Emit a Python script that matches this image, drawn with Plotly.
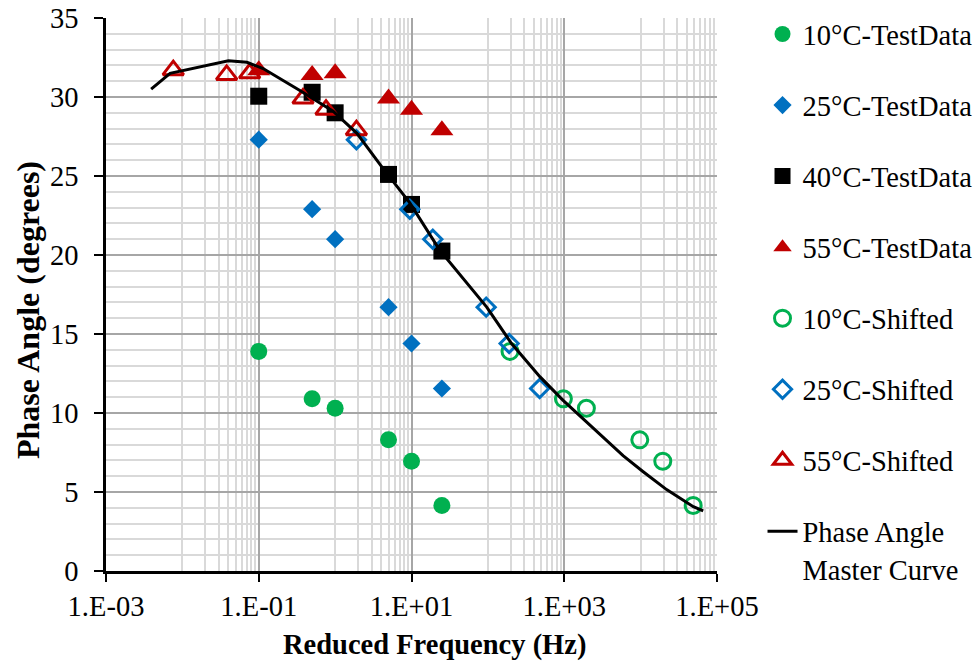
import plotly.graph_objects as go

# ---- data ----
test_freq = [0.1, 0.5, 1, 5, 10, 25]
t10_phase = [13.9, 10.9, 10.3, 8.3, 6.95, 4.15]
t25_phase = [27.3, 22.9, 21.0, 16.7, 14.4, 11.55]
t40_phase = [30.05, 30.3, 29.0, 25.1, 23.2, 20.25]
t55_phase = [31.7, 31.4, 31.5, 29.9, 29.2, 27.9]

s10_freq = [195, 975, 1950, 9750, 19500, 48750]
s25_freq = [1.9, 9.5, 19, 95, 190, 476]
s55_freq = [0.0076, 0.038, 0.076, 0.38, 0.76, 1.9]

mc_freq = [0.0039, 0.0069, 0.040, 0.070, 0.114, 0.35, 0.94, 1.93, 4.2, 9.5,
           23.5, 96.6, 204, 479, 966, 1950, 3550, 5890, 10700, 21900,
           49000, 66000]
mc_phase = [30.5, 31.5, 32.3, 32.2, 31.8, 30.4, 29.1, 27.7, 25.5, 23.3,
            20.3, 16.7, 14.4, 12.3, 10.8, 9.45, 8.3, 7.3, 6.3, 5.15,
            4.07, 3.8]

x_tickvals = [1e-3, 1e-1, 1e1, 1e3, 1e5]
x_ticktext = ["1.E-03", "1.E-01", "1.E+01", "1.E+03", "1.E+05"]
x_minor = [m * 10 ** e for e in (-2, 0, 2, 4) for m in range(1, 10)]

GREEN = "#00b050"
BLUE = "#0070c0"
RED = "#c00000"
FONT = "Liberation Serif"
FS = 28.5

fig = go.Figure()

def add(name, x, y, symbol, color, size, open_=False):
    if open_:
        marker = dict(symbol=symbol + "-open", size=size, color=color,
                      line=dict(width=3, color=color))
    else:
        marker = dict(symbol=symbol, size=size, color=color, line=dict(width=0))
    fig.add_trace(go.Scatter(x=x, y=y, mode="markers", name=name, marker=marker,
                             legendgroup=name))

add("10°C-TestData", test_freq, t10_phase, "circle", GREEN, 17)
add("25°C-TestData", test_freq, t25_phase, "diamond", BLUE, 14)
add("40°C-TestData", test_freq, t40_phase, "square", "black", 17)
add("55°C-TestData", test_freq, t55_phase, "triangle-up", RED, 20)
add("10°C-Shifted", s10_freq, t10_phase, "circle", GREEN, 16, open_=True)
add("25°C-Shifted", s25_freq, t25_phase, "diamond", BLUE, 14, open_=True)
add("55°C-Shifted", s55_freq, t55_phase, "triangle-up", RED, 18, open_=True)

fig.add_trace(go.Scatter(x=mc_freq, y=mc_phase, mode="lines",
                         name="Phase Angle<br>Master Curve",
                         line=dict(color="black", width=3),
                         legendgroup="mc"))

fig.update_layout(
    width=978, height=666,
    margin=dict(l=106, r=261, t=18, b=95, autoexpand=False),
    paper_bgcolor="white", plot_bgcolor="white",
    font=dict(family=FONT, size=FS, color="black"),
    showlegend=True,
    legend=dict(x=1.0745, y=0.9865, xref="paper", yref="container",
                xanchor="left", yanchor="top",
                font=dict(family=FONT, size=FS, color="black"),
                tracegroupgap=31, valign="top", bgcolor="rgba(0,0,0,0)",
                maxheight=660),
    xaxis=dict(
        type="log", range=[-3, 5], automargin=False,
        tickmode="array", tickvals=x_tickvals, ticktext=x_ticktext,
        showgrid=True, gridcolor="#a6a6a6", gridwidth=1.5,
        ticks="outside", ticklen=8, tickwidth=2, tickcolor="black",
        showline=True, linecolor="black", linewidth=2.5,
        zeroline=False,
        tickfont=dict(family=FONT, size=FS),
        minor=dict(tickmode="array", tickvals=x_minor, showgrid=True,
                   gridcolor="#d9d9d9", gridwidth=1.5, ticks=""),
    ),
    yaxis=dict(
        range=[0, 35], tickmode="linear", tick0=0, dtick=5, automargin=False,
        showgrid=True, gridcolor="#a6a6a6", gridwidth=1.5,
        ticks="outside", ticklen=9, tickwidth=2, tickcolor="black",
        showline=True, linecolor="black", linewidth=2.5,
        zeroline=False, ticklabelstandoff=10,
        tickfont=dict(family=FONT, size=FS),
        minor=dict(dtick=1, showgrid=True, gridcolor="#d9d9d9",
                   gridwidth=1.5, ticks=""),
    ),
    annotations=[
        dict(text="<b>Reduced Frequency (Hz)</b>", xref="paper", yref="paper",
             x=(434 - 106) / 611, y=-(645 - 571) / 553, xanchor="center",
             yanchor="middle", showarrow=False,
             font=dict(family=FONT, size=FS, color="black")),
        dict(text="<b>Phase Angle (degrees)</b>", xref="paper", yref="paper",
             x=-(106 - 28) / 611, y=(571 - 310) / 553, xanchor="center",
             yanchor="middle", textangle=-90, showarrow=False,
             font=dict(family=FONT, size=32, color="black")),
    ],
)

fig.write_html("out.html")
